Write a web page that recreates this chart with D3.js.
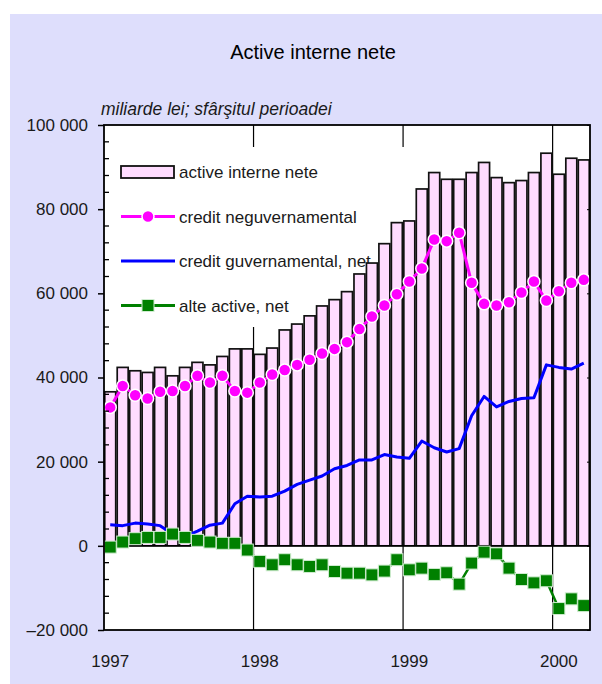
<!DOCTYPE html>
<html>
<head>
<meta charset="utf-8">
<script src="https://cdn.jsdelivr.net/npm/d3@7"></script>
<style>
    body { margin: 0; background: #fff; }
    svg { display: block; font-family: "Liberation Sans", Arial, Helvetica, sans-serif; }
</style>
</head>
<body>
<svg class="chart" width="602" height="684"></svg>
<script>
(function () {

    'use strict';

    // luni: ian 1997 - mar 2000 (sfarsitul perioadei)
    var months = [
        "1997-01", "1997-02", "1997-03", "1997-04", "1997-05", "1997-06",
        "1997-07", "1997-08", "1997-09", "1997-10", "1997-11", "1997-12",
        "1998-01", "1998-02", "1998-03", "1998-04", "1998-05", "1998-06",
        "1998-07", "1998-08", "1998-09", "1998-10", "1998-11", "1998-12",
        "1999-01", "1999-02", "1999-03", "1999-04", "1999-05", "1999-06",
        "1999-07", "1999-08", "1999-09", "1999-10", "1999-11", "1999-12",
        "2000-01", "2000-02", "2000-03"
    ];

    var activeInterneNete = [
        36600, 42400, 41600, 41200, 42400, 40400, 42400, 43600, 43000, 45000, 46800, 46800,
        45500, 47000, 51300, 52700, 54650, 57000, 58500, 60400, 64600, 67200, 71800, 76800,
        77200, 84800, 88700, 87100, 87100, 88700, 91100, 87500, 86300, 86800, 88700, 93300,
        88300, 92100, 91700
    ];

    var creditNeguvernamental = [
        32900, 38000, 35800, 35000, 36600, 36800, 38000, 40400, 38800, 40400, 36800, 36400,
        38800, 40700, 41800, 43000, 44200, 45700, 46800, 48400, 51500, 54500, 57100, 59800,
        62800, 65900, 72800, 72400, 74400, 62500, 57500, 57100, 57900, 60200, 62800, 58300,
        60500, 62500, 63200
    ];

    var creditGuvernamental = [
        5000, 4800, 5400, 5200, 4800, 2800, 2200, 3500, 4900, 5400, 10000, 11800,
        11600, 11800, 13000, 14600, 15600, 16600, 18300, 19100, 20400, 20400, 21700, 21100,
        20800, 24900, 23300, 22300, 23100, 30900, 35500, 33000, 34300, 35000, 35200, 43000,
        42400, 42000, 43400
    ];

    var alteActive = [
        -300, 900, 1700, 2000, 2000, 2800, 2000, 1300, 900, 600, 600, -1000,
        -3700, -4500, -3300, -4500, -4900, -4500, -6100, -6500, -6500, -6900, -6000, -3300,
        -5700, -5300, -6800, -6400, -9100, -4100, -1500, -1900, -5300, -8000, -8800, -8300,
        -14900, -12600, -14200
    ];

    var yearLabels = ["1997", "1998", "1999", "2000"];
    var yearStarts = ["1997-01", "1998-01", "1999-01", "2000-01"];
    var yTicks = [-20000, 0, 20000, 40000, 60000, 80000, 100000];

    var legendLabels = ["active interne nete", "credit neguvernamental", "credit guvernamental, net", "alte active, net"];

    var pink = "#ffdcff", magenta = "#ff00ff", blue = "#0000ff", green = "#008000";

    var svg = d3.select("svg.chart");

    svg.append("rect")
        .attr("x", 10).attr("y", 14)
        .attr("width", 592).attr("height", 670)
        .attr("fill", "#dedefc");

    svg.append("text")
        .attr("x", 313).attr("y", 59)
        .attr("text-anchor", "middle")
        .attr("font-size", 20)
        .attr("fill", "#000")
        .text("Active interne nete");

    svg.append("text")
        .attr("x", 101).attr("y", 115)
        .attr("font-size", 17.5)
        .attr("font-style", "italic")
        .attr("fill", "#1a1a1a")
        .text("miliarde lei; sfârşitul perioadei");

    var margin = { top: 125, left: 104 };
    var width = 486, height = 505;
    var g = svg.append("g").attr("transform", "translate(" + margin.left + "," + margin.top + ")");

    var x = d3.scaleBand().domain(months).range([0, width]).paddingInner(0.12).paddingOuter(0.06);
    var y = d3.scaleLinear().domain([-20000, 100000]).range([height, 0]);
    var cx = function (d, i) { return x(months[i]) + x.bandwidth() / 2; };

    var loc = d3.formatLocale({ decimal: ",", thousands: " ", grouping: [3], currency: ["", ""], minus: "\u2013" });
    var fmt = loc.format(",");

    g.append("rect")
        .attr("width", width).attr("height", height)
        .attr("fill", "#fff");

    // linii verticale la inceput de an
    var half = (x.step() - x.bandwidth()) / 2;
    g.append("g")
        .selectAll("line")
        .data(yearStarts.slice(1))
        .enter().append("line")
        .attr("x1", function (d) { return x(d) - half; })
        .attr("x2", function (d) { return x(d) - half; })
        .attr("y1", 0).attr("y2", height)
        .attr("stroke", "#000").attr("stroke-width", 1.2);

    // legenda (sub bare)
    var legend = g.append("g");
    legend.append("rect")
        .attr("x", 8).attr("y", 22)
        .attr("width", 360).attr("height", 180)
        .attr("fill", "#fff");

    var item = legend.selectAll("g")
        .data(legendLabels)
        .enter().append("g")
        .attr("transform", function (d, i) { return "translate(17," + (47 + i * 44.5) + ")"; });

    item.append("text")
        .attr("x", 58).attr("y", 6)
        .attr("font-size", 17)
        .attr("fill", "#1a1a1a")
        .text(function (d) { return d; });

    legend.append("rect")
        .attr("x", 17).attr("y", 41)
        .attr("width", 53).attr("height", 12)
        .attr("fill", pink).attr("stroke", "#111").attr("stroke-width", 1.8);

    var lineKeys = [
        { color: magenta, mark: "circle" },
        { color: blue, mark: "none" },
        { color: green, mark: "square" }
    ];
    var lk = legend.selectAll("g.lk")
        .data(lineKeys)
        .enter().append("g")
        .attr("class", "lk")
        .attr("transform", function (d, i) { return "translate(17," + (47 + (i + 1) * 44.5) + ")"; });
    lk.append("line")
        .attr("x1", 0).attr("x2", 54)
        .attr("stroke", function (d) { return d.color; })
        .attr("stroke-width", 3);
    lk.filter(function (d) { return d.mark === "circle"; })
        .append("circle")
        .attr("cx", 27).attr("r", 6)
        .attr("fill", magenta).attr("stroke", "#fff").attr("stroke-width", 1.5);
    lk.filter(function (d) { return d.mark === "square"; })
        .append("rect")
        .attr("x", 21).attr("y", -6)
        .attr("width", 12).attr("height", 12)
        .attr("fill", green).attr("stroke", "#cfeccf").attr("stroke-width", 1);

    // bare
    g.append("g")
        .selectAll("rect")
        .data(activeInterneNete)
        .enter().append("rect")
        .attr("x", function (d, i) { return x(months[i]); })
        .attr("y", function (d) { return y(d); })
        .attr("width", x.bandwidth())
        .attr("height", function (d) { return y(0) - y(d); })
        .attr("fill", pink)
        .attr("stroke", "#111")
        .attr("stroke-width", 1.7);

    g.append("line")
        .attr("x1", 0).attr("x2", width)
        .attr("y1", y(0)).attr("y2", y(0))
        .attr("stroke", "#000").attr("stroke-width", 1.5);

    var line = d3.line().x(cx).y(function (d) { return y(d); });

    g.append("path")
        .datum(creditGuvernamental)
        .attr("d", line)
        .attr("fill", "none")
        .attr("stroke", blue)
        .attr("stroke-width", 3)
        .attr("stroke-linejoin", "round");

    g.append("path")
        .datum(alteActive)
        .attr("d", line)
        .attr("fill", "none")
        .attr("stroke", green)
        .attr("stroke-width", 2.5);

    g.append("g")
        .selectAll("rect")
        .data(alteActive)
        .enter().append("rect")
        .attr("x", function (d, i) { return cx(d, i) - 6; })
        .attr("y", function (d) { return y(d) - 6; })
        .attr("width", 12).attr("height", 12)
        .attr("fill", green)
        .attr("stroke", "#cfeccf")
        .attr("stroke-width", 1);

    g.append("path")
        .datum(creditNeguvernamental)
        .attr("d", line)
        .attr("fill", "none")
        .attr("stroke", magenta)
        .attr("stroke-width", 3);

    g.append("g")
        .selectAll("circle")
        .data(creditNeguvernamental)
        .enter().append("circle")
        .attr("cx", cx)
        .attr("cy", function (d) { return y(d); })
        .attr("r", 6)
        .attr("fill", magenta)
        .attr("stroke", "#fff")
        .attr("stroke-width", 1.5);

    // cadru
    g.append("rect")
        .attr("width", width).attr("height", height)
        .attr("fill", "none")
        .attr("stroke", "#000")
        .attr("stroke-width", 1.8);

    // axa stanga
    var minor = d3.range(-20000, 100001, 4000).filter(function (v) { return yTicks.indexOf(v) < 0; });
    g.append("g")
        .selectAll("line")
        .data(minor)
        .enter().append("line")
        .attr("x1", 0).attr("x2", 5)
        .attr("y1", function (d) { return y(d); })
        .attr("y2", function (d) { return y(d); })
        .attr("stroke", "#000").attr("stroke-width", 1.3);

    var yAxis = g.append("g")
        .call(d3.axisLeft(y).tickValues(yTicks).tickSize(6).tickPadding(10).tickFormat(fmt));
    yAxis.select(".domain").remove();
    yAxis.selectAll(".tick line").attr("stroke-width", 1.5);
    yAxis.selectAll("text")
        .attr("font-size", 17)
        .attr("font-family", "Liberation Sans, Arial, sans-serif")
        .attr("fill", "#1a1a1a");

    var rAxis = g.append("g")
        .attr("transform", "translate(" + width + ",0)")
        .call(d3.axisRight(y).tickValues(yTicks).tickSize(-3).tickFormat(""));
    rAxis.select(".domain").remove();

    // etichete ani
    g.append("g")
        .selectAll("text")
        .data(yearLabels)
        .enter().append("text")
        .attr("x", function (d, i) { return x(yearStarts[i]) + x.bandwidth() / 2; })
        .attr("y", 536)
        .attr("dy", "0.35em")
        .attr("text-anchor", "middle")
        .attr("font-size", 17)
        .attr("fill", "#1a1a1a")
        .text(function (d) { return d; });

})();
</script>
</body>
</html>
